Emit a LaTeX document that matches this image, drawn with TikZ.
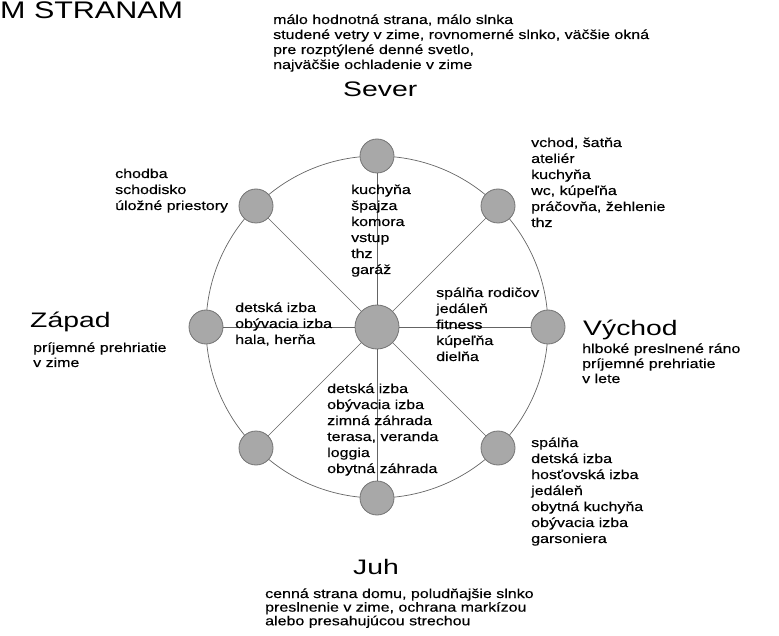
\documentclass[tikz,border=0pt]{standalone}
\usepackage{fontspec}
\setmainfont{Liberation Sans}[FakeStretch=1.23,FakeBold=0.35]
\newfontfamily\titlefont{Liberation Sans}[FakeStretch=1.35]
\newfontfamily\headfont{Liberation Sans}[FakeStretch=1.27]
\definecolor{nodefill}{RGB}{168,168,168}
\definecolor{nodeline}{RGB}{115,115,115}
\definecolor{spoke}{RGB}{100,100,100}
\newcommand\ml[1]{\begin{tabular}[t]{@{}l@{}}#1\end{tabular}}
\begin{document}
\begin{tikzpicture}[x=1pt,y=-1pt,
  txt/.style={anchor=base west, inner sep=0pt, font=\fontsize{13}{16}\selectfont},
  txtb/.style={anchor=base west, inner sep=0pt, font=\fontsize{13}{15}\selectfont},
  txtc/.style={anchor=base west, inner sep=0pt, font=\fontsize{13}{13.5}\selectfont},
  ttl/.style={anchor=base west, inner sep=0pt, font=\titlefont\fontsize{21}{25}\selectfont},
  dot/.style={circle, draw=nodeline, fill=nodefill, line width=0.8pt, minimum size=34pt, inner sep=0pt},
  hub/.style={dot, minimum size=44pt},
  ring/.style={draw=spoke, line width=0.7pt},
  spk/.style={draw=spoke, line width=0.7pt}]
\useasboundingbox (0,0) rectangle (779,636);
% ring
\draw[ring] (377,327) circle[radius=171pt];
% nodes
\node[hub] (c) at (377,327) {};
\node[dot] (n) at (377,156) {};
\node[dot] (ne) at (498,206) {};
\node[dot] (e) at (548,327) {};
\node[dot] (se) at (498,448) {};
\node[dot] (s) at (377,498) {};
\node[dot] (sw) at (256,448) {};
\node[dot] (w) at (206,327) {};
\node[dot] (nw) at (256,206) {};
% spokes
\foreach \t in {n,ne,e,se,s,sw,w,nw} \draw[spk] (c) -- (\t);
% heading
\node[anchor=base west, inner sep=0pt, font=\headfont\fontsize{24}{28}\selectfont] (head) at (0,18.5) {M STRANAM};
% north
\node[txtb] (ntext) at (273,24) {\ml{málo hodnotná strana, málo slnka\\studené vetry v zime, rovnomerné slnko, väčšie okná\\pre rozptýlené denné svetlo,\\najväčšie ochladenie v zime}};
\node[ttl] (sever) at (343,97) {Sever};
% rooms
\node[txt] (nwtext) at (115,178) {\ml{chodba\\schodisko\\úložné priestory}};
\node[txt] (netext) at (531,147) {\ml{vchod, šatňa\\ateliér\\kuchyňa\\wc, kúpeľňa\\práčovňa, žehlenie\\thz}};
\node[txt] (ntext2) at (351,194) {\ml{kuchyňa\\špajza\\komora\\vstup\\thz\\garáž}};
\node[txt] (wtext) at (235,312) {\ml{detská izba\\obývacia izba\\hala, herňa}};
\node[txt] (etext) at (436,297) {\ml{spálňa rodičov\\jedáleň\\fitness\\kúpeľňa\\dielňa}};
\node[txt] (stext) at (327,393) {\ml{detská izba\\obývacia izba\\zimná záhrada\\terasa, veranda\\loggia\\obytná záhrada}};
\node[txt] (setext) at (531,447) {\ml{spálňa\\detská izba\\hosťovská izba\\jedáleň\\obytná kuchyňa\\obývacia izba\\garsoniera}};
% west
\node[ttl] (zapad) at (30,327) {Západ};
\node[txtb] (wdesc) at (33,352) {\ml{príjemné prehriatie\\v zime}};
% east
\node[ttl] (vychod) at (583,335) {Východ};
\node[txtb] (edesc) at (582,353) {\ml{hlboké preslnené ráno\\príjemné prehriatie\\v lete}};
% south
\node[ttl] (juh) at (353,574) {Juh};
\node[txtc] (sdesc) at (265,598) {\ml{cenná strana domu, poludňajšie slnko\\preslnenie v zime, ochrana markízou\\alebo presahujúcou strechou}};
\end{tikzpicture}
\end{document}
